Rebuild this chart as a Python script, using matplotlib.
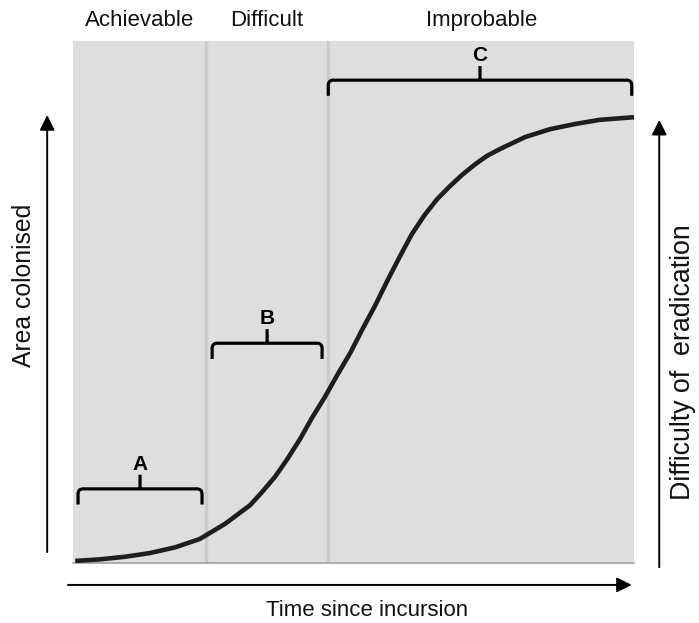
import matplotlib
matplotlib.use("Agg")
import matplotlib.pyplot as plt
from matplotlib.path import Path
from matplotlib.patches import PathPatch

plt.rcParams["font.family"] = ["Liberation Sans", "DejaVu Sans"]

# curve (time and area in % of the panel)
time_pts = [0.4, 4.8, 9.3, 13.7, 18.2, 22.6, 27.1, 31.6, 33.7, 36.0, 38.2,
            40.5, 42.6, 44.9, 47.1, 49.4, 51.5, 53.8, 56.0, 58.3, 60.4, 62.7,
            64.9, 67.2, 69.3, 71.7, 73.8, 76.1, 80.6, 85.0, 89.5, 93.9, 100.0]
area_pts = [0.4, 0.7, 1.2, 1.9, 3.0, 4.6, 7.5, 11.1, 13.6, 16.5, 19.9,
            23.8, 27.8, 31.8, 36.0, 40.2, 44.6, 49.2, 54.0, 58.8, 63.0, 66.7,
            69.7, 72.2, 74.3, 76.4, 78.0, 79.3, 81.6, 83.1, 84.1, 84.9, 85.4]

zone_names = ["Achievable", "Difficult", "Improbable"]
zone_edges = [0.0, 23.7, 45.5, 100.0]

bracket_labels = ["A", "B", "C"]
bracket_start = [0.9, 24.8, 45.5]
bracket_end = [23.0, 44.4, 99.6]
bracket_level = [14.2, 42.1, 92.5]

GRAY = "#dedede"
INK = "#1e1e1e"


def draw_bracket(ax, x0, x1, y, label, leg=3.0, tick=2.7, rx=0.9, ry=1.0):
    xc = (x0 + x1) / 2
    verts = [(x0, y - leg), (x0, y - ry), (x0, y), (x0 + rx, y),
             (x1 - rx, y), (x1, y), (x1, y - ry), (x1, y - leg),
             (xc, y), (xc, y + tick)]
    codes = [Path.MOVETO, Path.LINETO, Path.CURVE3, Path.CURVE3,
             Path.LINETO, Path.CURVE3, Path.CURVE3, Path.LINETO,
             Path.MOVETO, Path.LINETO]
    ax.add_patch(PathPatch(Path(verts, codes), fill=False, lw=2.3,
                           edgecolor="black", capstyle="butt", joinstyle="round"))
    ax.text(xc, y + tick + 2.0, label, ha="center", va="center",
            fontsize=15, fontweight="bold")


def main():
    fig = plt.figure(figsize=(6.99, 6.23), dpi=100)
    ax = fig.add_axes([73 / 699, 60 / 623, 561 / 699, 522 / 623])
    ax.set_xlim(0, 100)
    ax.set_ylim(0, 100)
    ax.set_facecolor(GRAY)
    for side in ["top", "left", "right"]:
        ax.spines[side].set_visible(False)
    ax.spines["bottom"].set_color("#a0a0a0")
    ax.spines["bottom"].set_linewidth(1.2)
    ax.set_xticks([])
    ax.set_yticks([])

    for edge in zone_edges[1:-1]:
        ax.axvline(edge, color="#cacaca", lw=2.5, zorder=1)

    for name, lo, hi in zip(zone_names, zone_edges[:-1], zone_edges[1:]):
        ax.text((lo + hi) / 2, 1.04, name, transform=ax.get_xaxis_transform(),
                ha="center", va="center", fontsize=16, color="#111111")

    ax.plot(time_pts, area_pts, color=INK, lw=3.3, solid_capstyle="butt",
            solid_joinstyle="round", zorder=3)

    for lab, x0, x1, y in zip(bracket_labels, bracket_start, bracket_end, bracket_level):
        draw_bracket(ax, x0, x1, y, lab)

    arrow = dict(arrowstyle="-|>,head_length=0.9,head_width=0.45", lw=1.4,
                 color="black", shrinkA=0, shrinkB=0, mutation_scale=10)
    # axis arrows, in axes fractions
    ax.annotate("", xy=(0.996, -0.042), xytext=(-0.009, -0.042),
                xycoords="axes fraction", arrowprops=arrow, annotation_clip=False)
    ax.annotate("", xy=(-0.046, 0.858), xytext=(-0.046, 0.021),
                xycoords="axes fraction", arrowprops=arrow, annotation_clip=False)
    ax.annotate("", xy=(1.045, 0.849), xytext=(1.045, -0.008),
                xycoords="axes fraction", arrowprops=arrow, annotation_clip=False)

    fig.text(367 / 699, 1 - 611 / 623, "Time since incursion", ha="center",
             va="center", fontsize=16, color="#111111")
    fig.text(24 / 699, 1 - 285 / 623, "Area colonised", ha="center", va="center",
             rotation=90, fontsize=17.8, color="#111111")
    fig.text(683 / 699, 1 - 362 / 623, "Difficulty of  eradication", ha="center",
             va="center", rotation=90, fontsize=19.3, color="#111111")

    fig.savefig("out.png", dpi=100, facecolor="white")
    plt.close(fig)


if __name__ == "__main__":
    main()
